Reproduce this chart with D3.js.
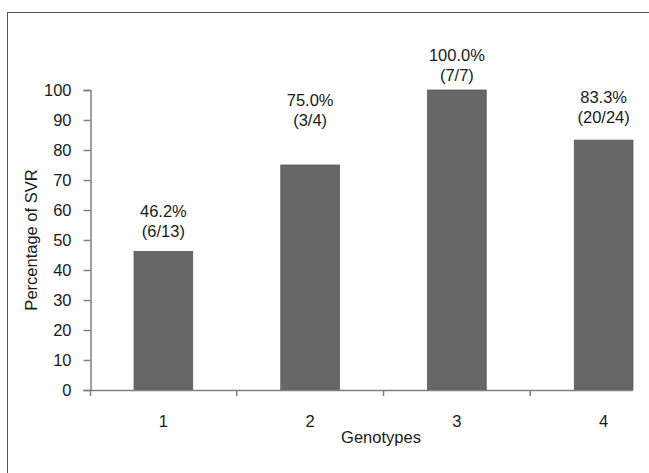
<!DOCTYPE html>
<html><head><meta charset="utf-8">
<script src="https://cdn.jsdelivr.net/npm/d3@7"></script>
<style>body{margin:0;background:#fff}svg{display:block}svg text{font-family:"Liberation Sans",Arial,sans-serif;fill:#1a1a1a;font-size:16.5px}</style>
</head><body>
<svg id="c" width="649" height="473"></svg>
<script>
const categories = ["1", "2", "3", "4"];
const svrPercent = [46.2, 75.0, 100.0, 83.3];
const svrLabels = ["46.2%", "75.0%", "100.0%", "83.3%"];
const svrCounts = ["(6/13)", "(3/4)", "(7/7)", "(20/24)"];
const yTicks = [0, 10, 20, 30, 40, 50, 60, 70, 80, 90, 100];

const svg = d3.select("#c");
// outer frame (cropped at right/bottom)
svg.append("rect").attr("x", 7.5).attr("y", 12.5).attr("width", 700).attr("height", 500)
  .attr("fill", "none").attr("stroke", "#555").attr("stroke-width", 1);

const x = d3.scaleBand().domain(categories).range([90, 677]).paddingInner(0.6).paddingOuter(0.3);
const y = d3.scaleLinear().domain([0, 100]).range([390, 90]);
const axisColor = "#808080";

// bars
svg.selectAll("rect.bar").data(categories).join("rect").attr("class", "bar")
  .attr("x", d => x(d)).attr("width", x.bandwidth())
  .attr("y", (d, i) => y(svrPercent[i])).attr("height", (d, i) => y(0) - y(svrPercent[i]))
  .attr("fill", "#676767").attr("stroke", "#5a5a5a").attr("stroke-width", 0.8);

// y axis
const ya = svg.append("g").attr("transform", "translate(90.5,0)")
  .call(d3.axisLeft(y).tickValues(yTicks).tickSize(7).tickPadding(12));
ya.attr("font-size", null).attr("font-family", null);
ya.select(".domain").attr("stroke", axisColor).attr("stroke-width", 1.5);
ya.selectAll(".tick line").attr("stroke", axisColor).attr("stroke-width", 1.5);
ya.selectAll(".tick text").attr("fill", "#1a1a1a");

// x axis line (cropped at right)
svg.append("line").attr("x1", 90).attr("x2", 633).attr("y1", 390.5).attr("y2", 390.5)
  .attr("stroke", axisColor).attr("stroke-width", 1.5);
const step = x.step();
const bounds = categories.map((c, i) => x(c) - x.paddingInner() * step / 2).map((v, i) => i === 0 ? 90.5 : v);
svg.selectAll("line.xt").data(bounds).join("line").attr("class", "xt")
  .attr("x1", d => d).attr("x2", d => d).attr("y1", 390).attr("y2", 396)
  .attr("stroke", axisColor).attr("stroke-width", 1.5);
svg.selectAll("text.xl").data(categories).join("text").attr("class", "xl")
  .attr("x", d => x(d) + x.bandwidth() / 2).attr("y", 427)
  .attr("text-anchor", "middle").text(d => d);

// axis titles
svg.append("text").attr("x", 381).attr("y", 443).attr("text-anchor", "middle").text("Genotypes");
svg.append("text").attr("transform", "translate(37,240) rotate(-90)").attr("text-anchor", "middle")
  .text("Percentage of SVR");

// data labels (manually lifted in the original)
const lift = [34, 59, 29, 37];
svg.selectAll("text.l1").data(categories).join("text").attr("class", "l1")
  .attr("x", d => x(d) + x.bandwidth() / 2).attr("y", (d, i) => y(svrPercent[i]) - lift[i])
  .attr("text-anchor", "middle").text((d, i) => svrLabels[i]);
svg.selectAll("text.l2").data(categories).join("text").attr("class", "l2")
  .attr("x", d => x(d) + x.bandwidth() / 2).attr("y", (d, i) => y(svrPercent[i]) - lift[i] + 20)
  .attr("text-anchor", "middle").text((d, i) => svrCounts[i]);
</script>
</body></html>
